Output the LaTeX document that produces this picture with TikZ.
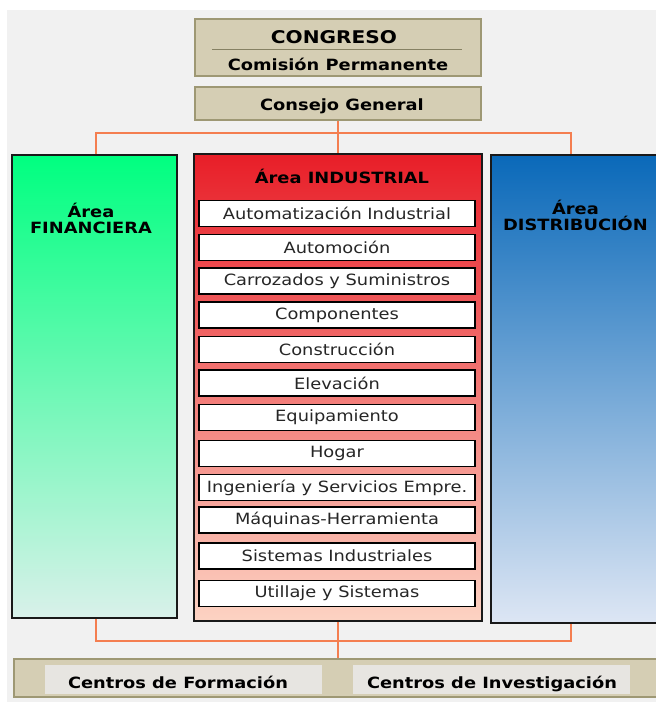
\documentclass[tikz,border=0pt]{standalone}
\usepackage{fontspec}
\usepackage{xcolor}
\usepackage{tikz}
\usetikzlibrary{positioning}

\setmainfont{DejaVu Sans}
\newfontfamily\widefont[FakeStretch=1.15]{DejaVu Sans}
\newcommand{\itemtext}{\widefont\fontsize{15.5}{17}\selectfont}
\newcommand{\headtext}{\widefont\bfseries\fontsize{15.5}{16}\selectfont}
\newcommand{\bigheadtext}{\widefont\bfseries\fontsize{17.5}{18}\selectfont}

\definecolor{pagegray}{HTML}{F1F1F1}
\definecolor{beigefill}{HTML}{D5CEB4}
\definecolor{beigeline}{HTML}{9E9874}
\definecolor{linkorange}{HTML}{F47E50}
\definecolor{greentop}{HTML}{00FF80}
\definecolor{greenbot}{HTML}{D9F1EA}
\definecolor{redtop}{HTML}{E81E28}
\definecolor{redbot}{HTML}{FCD3C3}
\definecolor{bluetop}{HTML}{0A69B9}
\definecolor{bluebot}{HTML}{DDE6F4}
\definecolor{cellgray}{HTML}{E7E5E1}
\definecolor{itemgray}{HTML}{262626}

\begin{document}
\begin{tikzpicture}[x=1pt, y=-1pt,
    beigebox/.style={draw=beigeline, line width=1.5pt, fill=beigefill, inner sep=0pt},
    areabox/.style={draw=black!90, line width=1.6pt, inner sep=0pt},
    itembox/.style={draw=black, line width=1.4pt, fill=white, minimum width=276pt,
        minimum height=26pt, inner sep=0pt, font=\itemtext, text=itemgray},
    cellbox/.style={fill=cellgray, minimum width=277pt, minimum height=29pt, inner sep=0pt},
    headtext/.style={font=\headtext, anchor=base, inner sep=0pt},
    areatitle/.style={font=\headtext, align=center, inner sep=0pt},
    link/.style={draw=linkorange, line width=1.8pt}]

    \useasboundingbox (0,0) rectangle (656,702);
    \fill[white] (0,0) rectangle (656,702);
    \fill[pagegray] (7,10) rectangle (656,702);

    % top boxes
    \node[beigebox, minimum width=286pt, minimum height=57pt] (congreso) at (338,47.5) {};
    \draw[beigeline!85!black, line width=1.6pt] (212,49.5) -- (462,49.5);
    \node[headtext, font=\bigheadtext] (congtxt) at (334,43) {CONGRESO};
    \node[headtext] (comtxt) at (338,70) {Comisión Permanente};
    \node[beigebox, minimum width=286pt, minimum height=33pt] (consejo) at (338,103.5) {};
    \node[headtext] (consejotxt) at (342,110) {Consejo General};

    % areas
    \node[areabox, top color=greentop, bottom color=greenbot,
        minimum width=165pt, minimum height=463pt] (fin) at (94.5,386.5) {};
    \node[areabox, top color=redtop, bottom color=redbot,
        minimum width=288pt, minimum height=467pt] (ind) at (338,387.5) {};
    \node[areabox, top color=bluetop, bottom color=bluebot,
        minimum width=167pt, minimum height=468pt] (dist) at (574.5,389) {};

    \node[areatitle] (fintit) at (91,218) {Área\\FINANCIERA};
    \node[headtext, font=\headtext] (indtit) at (342,183) {Área INDUSTRIAL};
    \node[areatitle] (disttit) at (575.5,215.5) {Área\\DISTRIBUCIÓN};

    % industrial sectors
    \node[itembox] (auto) at (337,213.5) {Automatización Industrial};
    \node[itembox] (automo) at (337,247.5) {Automoción};
    \node[itembox] (carroz) at (337,281) {Carrozados y Suministros};
    \node[itembox] (compo) at (337,315) {Componentes};
    \node[itembox] (constr) at (337,349.5) {Construcción};
    \node[itembox] (elev) at (337,383) {Elevación};
    \node[itembox] (equip) at (337,417.5) {Equipamiento};
    \node[itembox] (hogar) at (337,453.5) {Hogar};
    \node[itembox] (ingen) at (337,487.5) {Ingeniería y Servicios Empre.};
    \node[itembox] (maquin) at (337,520) {Máquinas-Herramienta};
    \node[itembox] (sistem) at (337,556) {Sistemas Industriales};
    \node[itembox] (utill) at (337,593.5) {Utillaje y Sistemas};

    % bottom band
    \node[beigebox, minimum width=648pt, minimum height=38pt] (centros) at (338,678) {};
    \node[cellbox] (formcell) at (183.5,679.5) {};
    \node[cellbox] (invcell) at (491.5,679.5) {};
    \node[headtext] (formtxt) at (178,688) {Centros de Formación};
    \node[headtext] (invtxt) at (492,688) {Centros de Investigación};

    % connectors
    \coordinate (topbar) at (338,133);
    \coordinate (botbar) at (338,641);
    \path[link] (consejo.south) -- (ind.north);
    \path[link] ([xshift=1.5pt]fin.north) |- (topbar) -| ([xshift=-3.5pt]dist.north);
    \path[link] ([xshift=1.5pt]fin.south) |- (botbar) -| ([xshift=-3.5pt]dist.south);
    \path[link] (ind.south) -- (centros.north);

\end{tikzpicture}
\end{document}
